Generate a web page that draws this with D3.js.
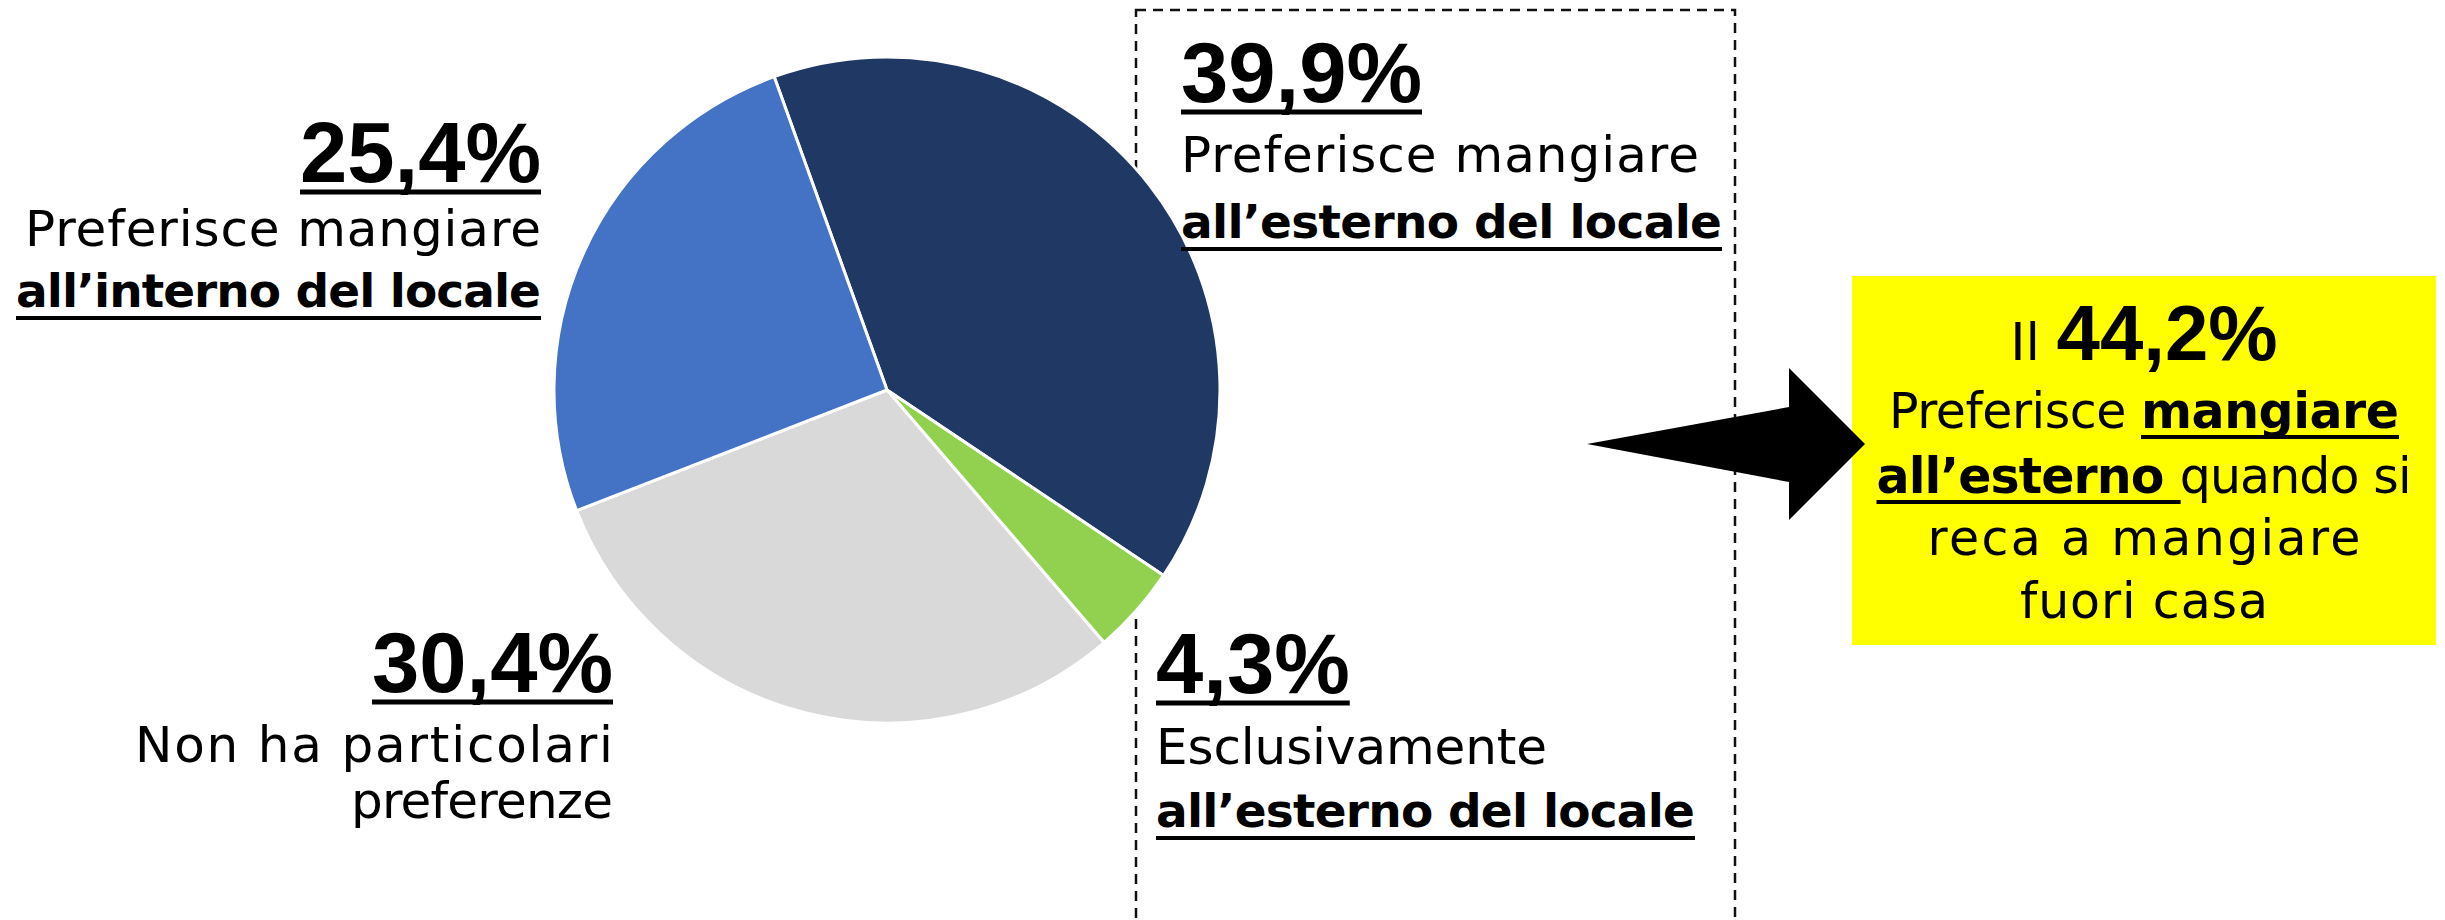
<!DOCTYPE html>
<html>
<head>
<meta charset="utf-8">
<script src="https://cdn.jsdelivr.net/npm/d3@7"></script>
<style>
  body { margin: 0; background: #fff; }
  svg { display: block; }
</style>
</head>
<body>
<svg></svg>
<script>
var width = 2445;
var height = 920;

// data
var categories = [
    "Preferisce mangiare all’esterno del locale",
    "Esclusivamente all’esterno del locale",
    "Non ha particolari preferenze",
    "Preferisce mangiare all’interno del locale"
];
var values = [39.9, 4.3, 30.4, 25.4];
var colors = ["#203864", "#92D050", "#D9D9D9", "#4472C4"];
var pctLabels = ["39,9%", "4,3%", "30,4%", "25,4%"];
var labelLines = [
    [["Preferisce mangiare", false], ["all’esterno del locale", true]],
    [["Esclusivamente", false], ["all’esterno del locale", true]],
    [["Non ha particolari", false], ["preferenze", false]],
    [["Preferisce mangiare", false], ["all’interno del locale", true]]
];
// yellow box: share of the two "outside" answers
var highlightValue = (values[0] + values[1]).toFixed(1).replace(".", ",") + "%";
var highlightLines = [
    [["Preferisce ", false, false], ["mangiare", true, true]],
    [["all’esterno ", true, true], ["quando si", false, false]],
    [["reca a mangiare", false, false]],
    [["fuori casa", false, false]]
];

// layout
var cx = 887, cy = 390, radius = 333;
var startDeg = -19.8;
var labelPos = [
    {x: 1181, anchor: "start", y: [102, 172, 238], w: [null, 518, 541]},
    {x: 1156, anchor: "start", y: [693, 764, 827], w: [null, 391, 539]},
    {x: 613,  anchor: "end",   y: [692, 762, 818], w: [null, 478, 262]},
    {x: 541,  anchor: "end",   y: [182, 246, 307], w: [null, 516, 525]}
];
var pctFont = "'Liberation Sans', Arial, sans-serif";
var txtFont = "'DejaVu Sans', sans-serif";

var svg = d3.select('svg')
    .attr("width", width)
    .attr("height", height);

// dashed frame round the right-hand labels
svg.append('rect')
    .attr("x", 1136)
    .attr("y", 10)
    .attr("width", 599)
    .attr("height", 960)
    .attr("fill", 'none')
    .attr("stroke", '#111')
    .attr("stroke-width", 2.5)
    .attr("stroke-dasharray", '10,7');

// pie
var color = d3.scaleOrdinal(categories, colors);
var pie = d3.pie()
    .sort(null)
    .value(function(d, i) { return values[i]; })
    .startAngle(startDeg * Math.PI / 180)
    .endAngle(startDeg * Math.PI / 180 + 2 * Math.PI);
var arc = d3.arc().innerRadius(0).outerRadius(radius);

svg.append('g')
    .attr("transform", "translate(" + cx + "," + cy + ")")
    .selectAll('path')
    .data(pie(categories))
    .join('path')
    .attr("d", arc)
    .attr("fill", function(d) { return color(d.data); })
    .attr("stroke", '#fff')
    .attr("stroke-width", 3)
    .attr("stroke-linejoin", 'round');

function underline(parent, x1, x2, y, w) {
    parent.append('rect')
        .attr("x", x1)
        .attr("y", y - w / 2)
        .attr("width", x2 - x1)
        .attr("height", w)
        .attr("fill", '#000');
}

// slice labels
pctLabels.forEach(function(p, i) {
    var pos = labelPos[i];
    var g = svg.append('g');

    var t = g.append('text')
        .attr("x", pos.x)
        .attr("y", pos.y[0])
        .attr("text-anchor", pos.anchor)
        .attr("font-family", pctFont)
        .attr("font-weight", 'bold')
        .attr("font-size", 85)
        .text(p);
    var b = t.node().getBBox();
    underline(g, b.x, b.x + b.width, pos.y[0] + 10, 5);

    labelLines[i].forEach(function(line, j) {
        var lt = g.append('text')
            .attr("x", pos.x)
            .attr("y", pos.y[j + 1])
            .attr("text-anchor", pos.anchor)
            .attr("font-family", txtFont)
            .attr("font-weight", line[1] ? 'bold' : 'normal')
            .attr("font-size", line[1] ? 47 : 50)
            .attr("textLength", pos.w[j + 1])
            .attr("lengthAdjust", 'spacing')
            .text(line[0]);
        if (line[1]) {
            var lb = lt.node().getBBox();
            underline(g, lb.x, lb.x + lb.width, pos.y[j + 1] + 11, 4);
        }
    });
});

// yellow highlight box
var box = {x: 1852, y: 276, w: 584, h: 369};
var boxMid = box.x + box.w / 2;
var boxY = [360, 428, 493, 555, 618];
var boxW = [null, 510, 535, 433, 248];

svg.append('rect')
    .attr("x", box.x)
    .attr("y", box.y)
    .attr("width", box.w)
    .attr("height", box.h)
    .attr("fill", '#FFFF00');

var hg = svg.append('g');
var first = hg.append('text')
    .attr("x", boxMid)
    .attr("y", boxY[0])
    .attr("text-anchor", 'middle');
first.append('tspan')
    .attr("font-family", txtFont)
    .attr("font-size", 52)
    .text("Il ");
first.append('tspan')
    .attr("font-family", pctFont)
    .attr("font-weight", 'bold')
    .attr("font-size", 78)
    .text(highlightValue);

highlightLines.forEach(function(line, j) {
    var t = hg.append('text')
        .attr("x", boxMid)
        .attr("y", boxY[j + 1])
        .attr("text-anchor", 'middle')
        .attr("font-family", txtFont)
        .attr("font-size", 49)
        .attr("textLength", boxW[j + 1])
        .attr("lengthAdjust", 'spacing');
    line.forEach(function(part) {
        t.append('tspan')
            .attr("font-weight", part[1] ? 'bold' : 'normal')
            .text(part[0]);
    });
    // underline the marked parts
    var node = t.node();
    var idx = 0;
    line.forEach(function(part) {
        var n = part[0].length;
        if (part[2]) {
            var x1 = node.getStartPositionOfChar(idx).x;
            var x2 = node.getEndPositionOfChar(idx + n - 1).x;
            underline(hg, x1, x2, boxY[j + 1] + 9, 4);
        }
        idx += n;
    });
});

// arrow pointing at the box
var arrowPts = [[1587, 444], [1789, 407], [1789, 368], [1865, 444], [1789, 520], [1789, 482]];
svg.append('path')
    .attr("d", d3.line()(arrowPts) + "Z")
    .attr("fill", '#000');
</script>
</body>
</html>
